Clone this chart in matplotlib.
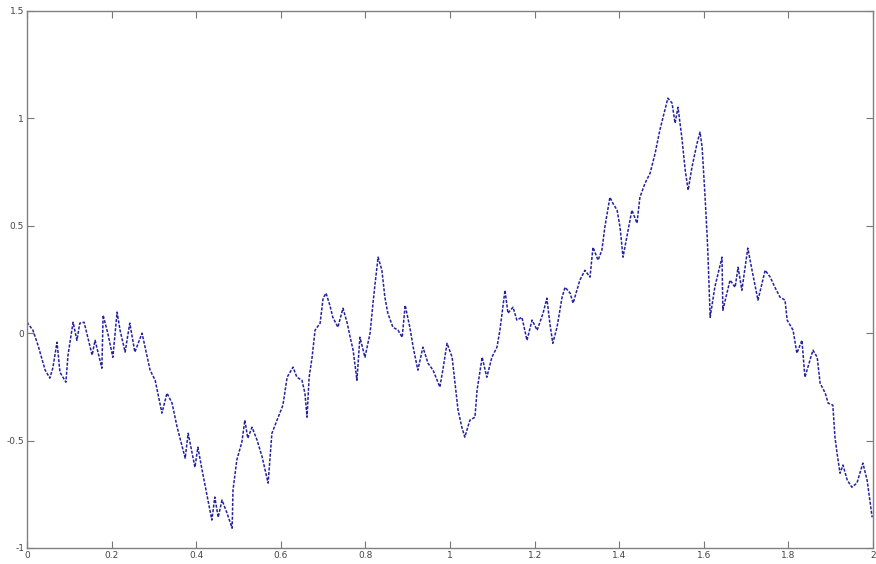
import matplotlib
matplotlib.use("Agg")
import matplotlib.pyplot as plt

# Trace (x in [0, 2])
x_vals = [0.000, 0.014, 0.026, 0.043, 0.054, 0.061, 0.071, 0.078, 0.092, 0.097,
          0.109, 0.118, 0.125, 0.135, 0.154, 0.161, 0.177, 0.180, 0.191, 0.203,
          0.213, 0.220, 0.232, 0.243, 0.255, 0.272, 0.291, 0.303, 0.319, 0.331,
          0.343, 0.355, 0.374, 0.381, 0.397, 0.404, 0.414, 0.437, 0.444, 0.452,
          0.461, 0.473, 0.485, 0.487, 0.496, 0.508, 0.515, 0.522, 0.532, 0.544,
          0.556, 0.570, 0.579, 0.605, 0.615, 0.629, 0.638, 0.650, 0.657, 0.662,
          0.667, 0.674, 0.681, 0.693, 0.700, 0.707, 0.716, 0.723, 0.735, 0.747,
          0.757, 0.764, 0.771, 0.780, 0.787, 0.799, 0.811, 0.818, 0.823, 0.830,
          0.839, 0.846, 0.853, 0.865, 0.877, 0.887, 0.894, 0.905, 0.913, 0.924,
          0.936, 0.948, 0.960, 0.976, 0.983, 0.993, 1.005, 1.012, 1.019, 1.028,
          1.035, 1.047, 1.059, 1.064, 1.076, 1.087, 1.099, 1.111, 1.118, 1.130,
          1.137, 1.149, 1.158, 1.170, 1.182, 1.194, 1.206, 1.220, 1.229, 1.236,
          1.243, 1.253, 1.265, 1.272, 1.284, 1.291, 1.307, 1.319, 1.331, 1.338,
          1.350, 1.359, 1.366, 1.378, 1.385, 1.395, 1.402, 1.409, 1.418, 1.430,
          1.442, 1.449, 1.461, 1.473, 1.485, 1.496, 1.508, 1.515, 1.525, 1.532,
          1.539, 1.548, 1.556, 1.563, 1.572, 1.584, 1.591, 1.596, 1.603, 1.608,
          1.610, 1.615, 1.626, 1.643, 1.645, 1.662, 1.674, 1.681, 1.690, 1.704,
          1.714, 1.728, 1.745, 1.757, 1.768, 1.780, 1.792, 1.797, 1.811, 1.820,
          1.832, 1.839, 1.858, 1.868, 1.875, 1.887, 1.894, 1.905, 1.910, 1.915,
          1.922, 1.929, 1.939, 1.950, 1.962, 1.969, 1.976, 1.986, 1.998]

y_vals = [0.051, 0.014, -0.056, -0.172, -0.209, -0.163, -0.042, -0.182, -0.228, -0.102,
          0.051, -0.033, 0.047, 0.051, -0.102, -0.033, -0.163, 0.084, 0.000, -0.112,
          0.098, 0.014, -0.088, 0.047, -0.088, 0.000, -0.172, -0.219, -0.372, -0.279,
          -0.326, -0.438, -0.582, -0.466, -0.624, -0.531, -0.638, -0.870, -0.763, -0.857,
          -0.777, -0.838, -0.908, -0.731, -0.591, -0.507, -0.405, -0.489, -0.438, -0.498,
          -0.577, -0.698, -0.466, -0.335, -0.205, -0.158, -0.205, -0.219, -0.279, -0.391,
          -0.205, -0.112, 0.014, 0.047, 0.163, 0.186, 0.130, 0.074, 0.028, 0.116,
          0.047, -0.019, -0.079, -0.219, -0.019, -0.112, 0.000, 0.140, 0.233, 0.354,
          0.293, 0.168, 0.093, 0.028, 0.014, -0.019, 0.130, 0.028, -0.065, -0.172,
          -0.065, -0.140, -0.172, -0.251, -0.172, -0.047, -0.112, -0.233, -0.358, -0.438,
          -0.484, -0.405, -0.391, -0.265, -0.112, -0.205, -0.112, -0.065, 0.014, 0.200,
          0.093, 0.121, 0.061, 0.074, -0.033, 0.061, 0.014, 0.093, 0.163, 0.047,
          -0.047, 0.028, 0.168, 0.214, 0.186, 0.140, 0.247, 0.293, 0.261, 0.400,
          0.340, 0.386, 0.493, 0.633, 0.605, 0.573, 0.493, 0.354, 0.447, 0.573,
          0.512, 0.633, 0.698, 0.745, 0.838, 0.945, 1.038, 1.094, 1.071, 0.978,
          1.052, 0.912, 0.759, 0.666, 0.773, 0.884, 0.936, 0.866, 0.633, 0.447,
          0.354, 0.074, 0.214, 0.354, 0.107, 0.247, 0.214, 0.307, 0.200, 0.396,
          0.293, 0.154, 0.293, 0.261, 0.214, 0.168, 0.154, 0.061, 0.014, -0.093,
          -0.033, -0.205, -0.079, -0.112, -0.233, -0.279, -0.326, -0.335, -0.484, -0.559,
          -0.652, -0.614, -0.684, -0.717, -0.698, -0.652, -0.605, -0.684, -0.857]

x_ticks = [0, 0.2, 0.4, 0.6, 0.8, 1, 1.2, 1.4, 1.6, 1.8, 2]
x_labels = ["0", "0.2", "0.4", "0.6", "0.8", "1", "1.2", "1.4", "1.6", "1.8", "2"]
y_ticks = [-1, -0.5, 0, 0.5, 1, 1.5]
y_labels = ["-1", "-0.5", "0", "0.5", "1", "1.5"]

fig = plt.figure(figsize=(8.76, 5.64), dpi=100)
ax = fig.add_axes([0.0308, 0.0284, 0.9658, 0.9521])
ax.plot(x_vals, y_vals, color="#2222a0", lw=1.1, ls=(0, (2.0, 1.0)))
ax.set_xlim(0, 2)
ax.set_ylim(-1, 1.5)
ax.set_xticks(x_ticks)
ax.set_xticklabels(x_labels)
ax.set_yticks(y_ticks)
ax.set_yticklabels(y_labels)
ax.tick_params(direction="in", length=5, width=0.8, colors="#777777",
               labelcolor="#444444", labelsize=6.5, top=True, right=True, pad=2)
for s in ax.spines.values():
    s.set_color("#808080")
    s.set_linewidth(1.0)
fig.savefig("out.png", dpi=100)
